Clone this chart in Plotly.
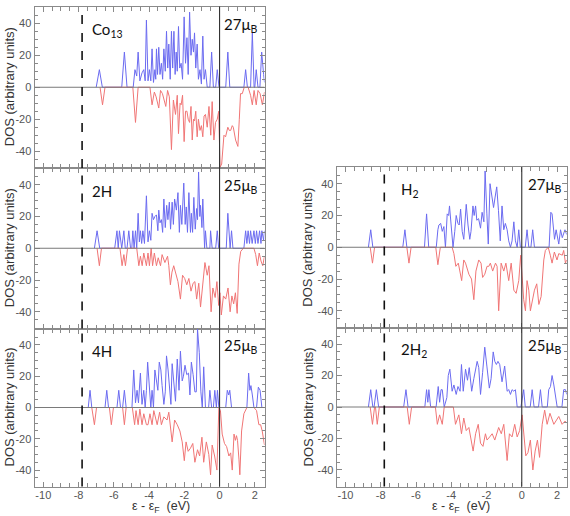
import plotly.graph_objects as go

# ---------------- data: (energy eV, DOS arbitrary units) vertices ----------------
co13_up = [(-7.00,0),(-6.82,11),(-6.65,0),(-5.55,0),(-5.40,22),(-5.25,0),(-4.90,0),(-4.80,11),(-4.70,7),(-4.62,22),
           (-4.52,4),(-4.40,9),(-4.30,11),(-4.22,4),(-4.15,42),(-4.06,4),(-3.98,11),(-3.90,4),(-3.83,24),(-3.75,3),
           (-3.67,11),(-3.62,5),(-3.58,24),(-3.52,8),(-3.45,25),(-3.38,8),(-3.30,15),(-3.23,5),(-3.16,24),(-3.08,10),
           (-3.01,35),(-2.94,12),(-2.88,27),(-2.80,5),(-2.73,35),(-2.66,12),(-2.59,35),(-2.52,8),(-2.46,22),(-2.40,10),
           (-2.33,38),(-2.26,12),(-2.18,15),(-2.10,5),(-2.01,44),(-1.93,15),(-1.85,31),(-1.78,8),(-1.70,47),(-1.62,20),
           (-1.55,30),(-1.48,22),(-1.42,34),(-1.35,12),(-1.27,27),(-1.20,5),(-1.11,11),(-1.03,2),(-0.95,32),(-0.88,5),
           (-0.80,11),(-0.70,0),(-0.55,0),(-0.45,22),(-0.35,0),(-0.22,0),(-0.13,11),(-0.03,0),(0.35,0),(0.47,22),
           (0.58,0),(1.38,0),(1.48,11),(1.58,0),(1.76,0),(1.86,34),(1.96,0),(2.00,0),(2.08,11),(2.18,0),
           (2.29,0),(2.39,22),(2.50,8),(2.55,3)]
co13_dn = [(-6.78,0),(-6.64,-11),(-6.50,0),(-4.92,0),(-4.77,-22),(-4.62,0),(-3.95,0),(-3.83,-11),(-3.70,-3),(-3.60,-6),
           (-3.45,-13),(-3.35,-2),(-3.24,-4),(-3.05,-12),(-2.95,-2),(-2.85,-6),(-2.73,-39),(-2.62,-8),(-2.50,-17),(-2.40,-5),
           (-2.33,-29),(-2.24,-10),(-2.18,-11),(-2.10,-5),(-2.01,-34),(-1.93,-15),(-1.85,-15),(-1.78,-20),(-1.70,-22),(-1.62,-12),
           (-1.55,-33),(-1.48,-20),(-1.42,-21),(-1.35,-15),(-1.27,-31),(-1.20,-20),(-1.11,-27),(-1.03,-24),(-0.95,-31),(-0.88,-18),
           (-0.80,-17),(-0.70,-25),(-0.60,-12),(-0.50,-30),(-0.42,-9),(-0.32,-33),(-0.23,-22),(-0.13,-20),(-0.05,-15),(0.03,-50),
           (0.12,-48),(0.25,-30),(0.34,-31),(0.47,-25),(0.55,-27),(0.63,-27),(0.72,-24),(0.78,-25),(0.91,-33),(1.04,-37),
           (1.12,-20),(1.19,-4),(1.29,-4),(1.40,0),(1.62,0),(1.76,-5),(1.86,-11),(1.96,-2),(2.08,-11),(2.18,-2),
           (2.30,-4),(2.43,-11),(2.55,-3)]

h2x_up = [(-7.10,0),(-6.95,11),(-6.80,0),(-5.95,0),(-5.82,11),(-5.75,0),(-5.68,11),(-5.55,0),(-5.43,11),(-5.35,0),
          (-5.25,0),(-5.15,11),(-5.05,0),(-4.98,0),(-4.92,11),(-4.85,0),(-4.77,11),(-4.70,0),(-4.62,22),(-4.55,4),
          (-4.49,11),(-4.42,3),(-4.35,11),(-4.26,3),(-4.15,33),(-4.06,4),(-3.98,11),(-3.90,5),(-3.83,22),(-3.75,18),
          (-3.67,20),(-3.58,21),(-3.50,11),(-3.45,24),(-3.38,16),(-3.30,18),(-3.23,10),(-3.16,31),(-3.08,13),(-3.00,27),
          (-2.93,18),(-2.85,29),(-2.78,12),(-2.69,29),(-2.62,15),(-2.55,31),(-2.45,24),(-2.36,35),(-2.28,10),(-2.22,27),
          (-2.14,15),(-2.03,41),(-1.95,15),(-1.89,26),(-1.82,10),(-1.74,35),(-1.65,10),(-1.60,22),(-1.53,10),(-1.46,32),
          (-1.38,12),(-1.30,25),(-1.25,18),(-1.19,48),(-1.12,20),(-1.08,27),(-1.00,13),(-0.95,31),(-0.85,0),(-0.80,11),
          (-0.72,0),(-0.55,0),(-0.51,11),(-0.42,0),(-0.22,0),(-0.13,11),(-0.05,0),(0.38,0),(0.47,22),(0.56,0),
          (0.60,0),(0.68,11),(0.76,0),(1.38,0),(1.48,11),(1.55,3),(1.62,11),(1.70,3),(1.76,11),(1.85,3),
          (1.95,11),(2.03,3),(2.10,11),(2.18,3),(2.27,11),(2.35,3),(2.40,11),(2.50,5),(2.55,11)]
h2x_dn = [(-6.95,0),(-6.82,-11),(-6.70,0),(-5.65,0),(-5.53,-11),(-5.43,-4),(-5.34,-11),(-5.22,0),(-4.70,0),(-4.58,-11),
          (-4.49,-5),(-4.39,-11),(-4.30,-3),(-4.15,-11),(-4.06,-3),(-3.98,-11),(-3.88,0),(-3.80,-11),(-3.70,-3),(-3.58,-11),
          (-3.48,-6),(-3.35,-11),(-3.26,-4),(-3.10,-9),(-2.95,-5),(-2.88,-11),(-2.79,-23),(-2.70,-15),(-2.60,-11),(-2.48,-17),
          (-2.36,-21),(-2.22,-32),(-2.10,-17),(-1.98,-19),(-1.86,-23),(-1.74,-19),(-1.62,-27),(-1.50,-22),(-1.40,-21),(-1.30,-32),
          (-1.18,-22),(-1.08,-37),(-0.95,-21),(-0.83,-9),(-0.70,-17),(-0.60,-11),(-0.48,-40),(-0.38,-25),(-0.25,-31),(-0.15,-21),
          (-0.05,-36),(0.02,-28),(0.10,-42),(0.22,-30),(0.35,-32),(0.48,-25),(0.60,-40),(0.70,-30),(0.80,-35),(0.90,-28),
          (1.00,-41),(1.10,-10),(1.20,-2),(1.35,0),(1.95,0),(2.05,-4),(2.15,-11),(2.25,-3),(2.35,-8),(2.45,-11),
          (2.55,-5)]

h4x_up = [(-7.45,0),(-7.35,11),(-7.25,0),(-6.50,0),(-6.40,11),(-6.30,0),(-5.82,0),(-5.72,11),(-5.62,0),(-5.50,0),
          (-5.40,11),(-5.30,0),(-4.97,0),(-4.87,24),(-4.77,3),(-4.68,11),(-4.60,3),(-4.49,22),(-4.40,2),(-4.30,11),
          (-4.22,0),(-4.15,11),(-4.08,29),(-3.98,15),(-3.90,0),(-3.83,11),(-3.75,0),(-3.67,24),(-3.58,18),(-3.50,11),
          (-3.42,29),(-3.33,24),(-3.26,14),(-3.16,2),(-3.08,10),(-3.01,33),(-2.92,24),(-2.85,11),(-2.76,2),(-2.69,28),
          (-2.60,18),(-2.50,4),(-2.40,31),(-2.30,11),(-2.22,36),(-2.12,17),(-2.05,20),(-1.96,27),(-1.86,21),(-1.76,22),
          (-1.68,8),(-1.60,29),(-1.50,21),(-1.40,10),(-1.32,10),(-1.25,50),(-1.15,35),(-1.06,10),(-0.98,0),(-0.90,26),
          (-0.80,0),(-0.62,0),(-0.55,11),(-0.45,0),(-0.35,0),(-0.27,11),(-0.18,0),(-0.12,11),(-0.04,0),(0.35,0),
          (0.44,11),(0.52,8),(0.58,11),(0.68,0),(1.55,0),(1.65,22),(1.72,11),(1.78,14),(1.86,8),(1.95,0),
          (2.10,0),(2.20,13),(2.30,11),(2.40,0),(2.55,0)]
h4x_dn = [(-7.25,0),(-7.10,-11),(-6.98,0),(-6.25,0),(-6.14,-11),(-6.02,0),(-5.50,0),(-5.40,-11),(-5.30,0),(-4.95,0),
          (-4.82,-11),(-4.74,-2),(-4.62,-11),(-4.52,-1),(-4.40,-11),(-4.30,-4),(-4.15,-11),(-4.06,-11),(-3.95,-4),(-3.83,-11),
          (-3.73,-2),(-3.54,-11),(-3.40,-3),(-3.30,-11),(-3.16,-6),(-3.07,-7),(-2.98,-8),(-2.88,-3),(-2.69,-22),(-2.55,-8),
          (-2.40,-11),(-2.25,-15),(-2.12,-22),(-2.00,-34),(-1.90,-22),(-1.78,-28),(-1.65,-26),(-1.52,-23),(-1.40,-35),(-1.25,-27),
          (-1.13,-31),(-1.00,-19),(-0.90,-35),(-0.75,-22),(-0.61,-30),(-0.51,-43),(-0.42,-24),(-0.28,-31),(-0.15,-40),(-0.04,0),
          (0.05,-2),(0.15,-17),(0.28,-23),(0.40,-25),(0.53,-31),(0.63,-29),(0.72,-40),(0.82,-17),(0.90,-21),(0.96,-18),
          (1.02,-21),(1.10,-33),(1.15,-43),(1.25,-15),(1.38,-4),(1.55,0),(1.95,0),(2.10,-2),(2.23,-11),(2.33,-11),
          (2.42,-15),(2.55,-24)]

h2m_up = [(-8.70,0),(-8.57,11),(-8.45,0),(-6.75,0),(-6.63,11),(-6.52,0),(-5.52,0),(-5.40,21),(-5.28,0),(-4.85,0),
          (-4.76,11),(-4.70,14),(-4.60,15),(-4.51,10),(-4.42,13),(-4.33,0),(-4.23,21),(-4.15,20),(-4.10,26),(-4.00,11),
          (-3.90,0),(-3.80,10),(-3.72,20),(-3.62,15),(-3.55,14),(-3.47,24),(-3.38,10),(-3.29,5),(-3.15,27),(-3.05,14),
          (-2.95,5),(-2.88,10),(-2.77,26),(-2.70,20),(-2.62,26),(-2.55,17),(-2.45,18),(-2.34,12),(-2.25,22),(-2.15,16),
          (-2.08,48),(-1.98,21),(-1.90,2),(-1.80,40),(-1.70,32),(-1.60,25),(-1.52,31),(-1.42,38),(-1.32,23),(-1.22,4),
          (-1.12,26),(-1.02,11),(-0.93,15),(-0.83,11),(-0.74,4),(-0.64,0),(-0.55,4),(-0.45,16),(-0.36,4),(-0.26,0),
          (-0.17,11),(-0.08,0),(0.20,0),(0.30,11),(0.40,0),(0.52,0),(0.62,11),(0.72,0),(1.55,0),(1.65,22),
          (1.72,21),(1.78,15),(1.86,5),(1.95,11),(2.03,5),(2.10,2),(2.20,11),(2.30,6),(2.45,11),(2.55,8)]
h2m_dn = [(-8.60,0),(-8.47,-10),(-8.35,0),(-6.52,0),(-6.40,-10),(-6.28,0),(-4.88,0),(-4.76,-11),(-4.62,0),(-3.95,0),
          (-3.85,-4),(-3.74,-12),(-3.60,-10),(-3.41,-21),(-3.29,-8),(-3.19,-10),(-3.00,-17),(-2.85,-20),(-2.72,-33),(-2.60,-15),
          (-2.44,-8),(-2.31,-10),(-2.22,-19),(-2.10,-17),(-1.97,-12),(-1.87,-12),(-1.78,-10),(-1.65,-15),(-1.49,-10),(-1.40,-12),
          (-1.31,-40),(-1.17,-10),(-1.02,-15),(-0.90,-10),(-0.74,-21),(-0.60,-10),(-0.45,-27),(-0.32,-29),(-0.17,-21),(-0.06,-5),
          (0.11,-33),(0.21,-40),(0.30,-21),(0.40,-27),(0.49,-40),(0.62,-31),(0.72,-27),(0.85,-23),(0.97,-36),(1.10,-31),
          (1.25,-8),(1.34,-2),(1.50,0),(1.62,-5),(1.72,-10),(1.85,-3),(2.00,-8),(2.10,-4),(2.30,-5),(2.38,-2),
          (2.48,-10),(2.55,-8)]

h4m_up = [(-8.70,0),(-8.57,11),(-8.45,0),(-8.38,0),(-8.25,11),(-8.12,0),(-6.70,0),(-6.57,11),(-6.45,0),(-5.50,0),
          (-5.40,11),(-5.33,3),(-5.27,11),(-5.17,0),(-4.86,0),(-4.74,13),(-4.66,3),(-4.58,11),(-4.51,11),(-4.40,0),
          (-4.25,6),(-4.17,20),(-4.08,24),(-3.95,10),(-3.85,14),(-3.72,8),(-3.62,13),(-3.50,10),(-3.42,27),(-3.32,10),
          (-3.19,24),(-3.08,17),(-2.98,25),(-2.84,10),(-2.72,18),(-2.53,29),(-2.44,25),(-2.34,8),(-2.22,22),(-2.10,38),
          (-1.98,26),(-1.84,12),(-1.74,18),(-1.62,35),(-1.53,29),(-1.44,27),(-1.35,29),(-1.25,27),(-1.12,16),(-0.97,26),
          (-0.83,10),(-0.74,11),(-0.64,8),(-0.55,11),(-0.45,10),(-0.36,11),(-0.26,0),(-0.05,0),(0.11,11),(0.20,0),
          (0.48,0),(0.59,11),(0.70,0),(0.95,0),(1.06,11),(1.16,0),(1.45,0),(1.53,11),(1.63,13),(1.72,20),
          (1.82,14),(1.91,8),(2.01,0),(2.28,0),(2.38,11),(2.48,11),(2.55,8)]
h4m_dn = [(-8.60,0),(-8.47,-11),(-8.35,0),(-8.30,0),(-8.20,-11),(-8.08,0),(-6.50,0),(-6.38,-11),(-6.25,0),(-4.90,0),
          (-4.79,-11),(-4.66,-5),(-4.51,-11),(-4.40,0),(-3.88,0),(-3.76,-11),(-3.57,-5),(-3.42,-17),(-3.29,-7),(-3.15,-15),
          (-3.00,-13),(-2.89,-21),(-2.76,-28),(-2.62,-17),(-2.47,-11),(-2.34,-23),(-2.20,-25),(-2.06,-17),(-1.97,-21),(-1.82,-19),
          (-1.68,-17),(-1.53,-21),(-1.40,-17),(-1.31,-13),(-1.16,-17),(-1.02,-11),(-0.83,-34),(-0.70,-17),(-0.55,-19),(-0.40,-11),
          (-0.26,-19),(-0.12,-15),(0.02,-5),(0.11,-17),(0.23,-31),(0.35,-29),(0.49,-21),(0.63,-40),(0.76,-28),(0.89,-21),
          (1.01,-32),(1.16,-11),(1.30,-2),(1.44,-11),(1.60,-4),(1.82,-11),(2.00,-8),(2.10,-6),(2.29,-11),(2.45,-9),
          (2.55,-10)]

panel_labels = ["Co<sub>13</sub>", "2H", "4H", "H<sub>2</sub>", "2H<sub>2</sub>"]
moment_labels = ["27μ<sub>B</sub>", "25μ<sub>B</sub>", "25μ<sub>B</sub>", "27μ<sub>B</sub>", "25μ<sub>B</sub>"]
x_tick_vals = [-10, -8, -6, -4, -2, 0, 2]
x_tick_text = ["-10", "-8", "-6", "-4", "-2", "0", "2"]
y_tick_vals = [-40, -20, 0, 20, 40]
y_tick_text = ["-40", "-20", "0", "20", "40"]
fermi_level = 0.0
ref_level = -7.8

series = [(co13_up, co13_dn), (h2x_up, h2x_dn), (h4x_up, h4x_dn), (h2m_up, h2m_dn), (h4m_up, h4m_dn)]

# ---------------- layout geometry ----------------
W, H = 570, 516
def px(x):
    return x / W
def py(y):
    return 1 - y / H

x_domains = [[px(34.5), px(264.5)]] * 3 + [[px(336.7), px(566.7)]] * 2
y_domains = [
    [py(168), py(6.5)],
    [py(328.5), py(168)],
    [py(486.5), py(328.5)],
    [py(327.5), py(167)],
    [py(486.5), py(327.5)],
]

BLUE = "#6b6bf0"
RED = "#f07575"
FRAME = "#8a8a8a"
TICKFONT = dict(family="Liberation Sans, Arial, sans-serif", size=11, color="#555")
LABELFONT = dict(family="Lato, Open Sans, sans-serif", size=15, color="#111")

fig = go.Figure()
layout = dict(
    width=W, height=H, margin=dict(l=0, r=0, t=0, b=0),
    paper_bgcolor="white", plot_bgcolor="white", showlegend=False,
)
shapes, annotations = [], []

for i, (up, dn) in enumerate(series):
    n = i + 1
    xa = "x" if n == 1 else f"x{n}"
    ya = "y" if n == 1 else f"y{n}"
    fig.add_trace(go.Scatter(x=[p[0] for p in up], y=[p[1] for p in up], mode="lines",
                             xaxis=xa, yaxis=ya, line=dict(color=BLUE, width=1), hoverinfo="skip"))
    fig.add_trace(go.Scatter(x=[p[0] for p in dn], y=[p[1] for p in dn], mode="lines",
                             xaxis=xa, yaxis=ya, line=dict(color=RED, width=1), hoverinfo="skip"))
    bottom = n in (3, 5)
    layout[f"xaxis{'' if n == 1 else n}"] = dict(
        domain=x_domains[i], range=[-10.5, 2.55], anchor=ya,
        showline=True, linecolor=FRAME, linewidth=1, mirror="allticks",
        ticks="inside", ticklen=5, tickcolor=FRAME,
        tickmode="array", tickvals=x_tick_vals, ticktext=x_tick_text,
        showticklabels=bottom, tickfont=TICKFONT, ticklabelstandoff=-2,
        minor=dict(ticks="inside", dtick=0.5, tick0=0, ticklen=4, tickcolor=FRAME),
        showgrid=False, zeroline=False, fixedrange=True,
    )
    layout[f"yaxis{'' if n == 1 else n}"] = dict(
        domain=y_domains[i], range=[-50.5, 50.5], anchor=xa,
        showline=True, linecolor=FRAME, linewidth=1, mirror="allticks",
        ticks="inside", ticklen=5, tickcolor=FRAME,
        tickmode="array", tickvals=y_tick_vals, ticktext=y_tick_text,
        tickfont=TICKFONT,
        minor=dict(ticks="inside", dtick=5, tick0=0, ticklen=3, tickcolor=FRAME),
        showgrid=False, zeroline=False, fixedrange=True,
    )
    shapes.append(dict(type="line", xref=f"{xa} domain", yref=ya, x0=0, x1=1, y0=0, y1=0,
                       line=dict(color="#7a7a7a", width=1), layer="above"))
    shapes.append(dict(type="line", xref=xa, yref=f"{ya} domain", x0=fermi_level, x1=fermi_level,
                       y0=0, y1=1, line=dict(color="#333", width=1.1), layer="above"))
    shapes.append(dict(type="line", xref=xa, yref=f"{ya} domain", x0=ref_level, x1=ref_level,
                       y0=0, y1=1, line=dict(color="#111", width=1.6, dash="dash"), layer="above"))
    left_col = n <= 3
    annotations.append(dict(text=panel_labels[i], xref=xa, yref=ya,
                            x=-7.35 if left_col else -6.95, y=36, xanchor="left", yanchor="middle",
                            showarrow=False, font=LABELFONT))
    annotations.append(dict(text=moment_labels[i], xref=xa, yref=ya,
                            x=0.15 if left_col else 0.25, y=39, xanchor="left", yanchor="middle",
                            showarrow=False, font=LABELFONT))
    ymid = (y_domains[i][0] + y_domains[i][1]) / 2
    annotations.append(dict(text="DOS (arbitrary units)", xref="paper", yref="paper",
                            x=px(9) if left_col else px(307.5), y=ymid, xanchor="center", yanchor="middle",
                            textangle=-90, showarrow=False,
                            font=dict(family="Liberation Sans, Arial, sans-serif", size=13, color="#333")))

for xc in (161, 461):
    annotations.append(dict(text="ε - ε<sub>F</sub>  (eV)", xref="paper", yref="paper",
                            x=px(xc), y=0, xanchor="center", yanchor="bottom", showarrow=False,
                            borderpad=0,
                            font=dict(family="Liberation Sans, Arial, sans-serif", size=12.5, color="#333")))

layout["shapes"] = shapes
layout["annotations"] = annotations
fig.update_layout(**layout)
fig.write_html("out.html")
